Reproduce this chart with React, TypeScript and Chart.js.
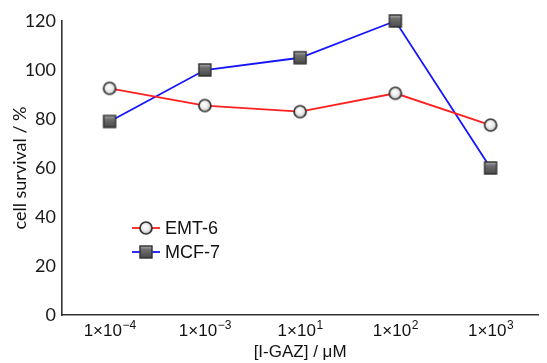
import React, { useEffect, useRef } from "react";
import { Chart, registerables } from "chart.js";

Chart.register(...registerables);

const tickBases = ["1×10", "1×10", "1×10", "1×10", "1×10"];
const tickExponents = ["−4", "−3", "1", "2", "3"];
const categories = tickBases.map((b, i) => b + "^" + tickExponents[i]);
const emt6Values = [92.5, 85.5, 83, 90.5, 77.5];
const mcf7Values = [79, 100, 105, 120, 60];
const seriesNames = ["EMT-6", "MCF-7"];
const seriesColors = ["#ff2020", "#1414ff"];
const yTitle = "cell survival / %";
const xTitle = "[I-GAZ] / μM";

function makeCircle(): HTMLCanvasElement {
  const c = document.createElement("canvas");
  c.width = 16;
  c.height = 16;
  const g = c.getContext("2d")!;
  const grad = g.createRadialGradient(7, 6.5, 0.5, 8, 8, 7);
  grad.addColorStop(0, "#ffffff");
  grad.addColorStop(0.55, "#e6e6e6");
  grad.addColorStop(1, "#8a8a8a");
  g.beginPath();
  g.arc(8, 8, 6, 0, Math.PI * 2);
  g.fillStyle = grad;
  g.fill();
  g.lineWidth = 1.7;
  g.strokeStyle = "#333333";
  g.stroke();
  return c;
}

function makeSquare(): HTMLCanvasElement {
  const c = document.createElement("canvas");
  c.width = 16;
  c.height = 16;
  const g = c.getContext("2d")!;
  const grad = g.createLinearGradient(0, 2, 0, 14);
  grad.addColorStop(0, "#b0b0b0");
  grad.addColorStop(0.3, "#6e6e6e");
  grad.addColorStop(1, "#4a4a4a");
  g.fillStyle = grad;
  g.fillRect(2, 2, 12, 12);
  g.lineWidth = 1.4;
  g.strokeStyle = "#2e2e2e";
  g.strokeRect(2, 2, 12, 12);
  return c;
}

const SANS = "'Liberation Sans', Arial, sans-serif";

export default function App() {
  const ref = useRef<HTMLCanvasElement | null>(null);

  useEffect(() => {
    document.body.style.margin = "0";
    const circle = makeCircle();
    const square = makeSquare();
    const markers = [circle, square];

    const legendPlugin = {
      id: "customLegend",
      afterDraw(chart: any) {
        const ctx = chart.ctx;
        const { left, top } = chart.chartArea;
        seriesNames.forEach((name, i) => {
          const y = top + 207 + i * 24;
          const x0 = left + 70;
          ctx.save();
          ctx.strokeStyle = seriesColors[i];
          ctx.lineWidth = 1.8;
          ctx.beginPath();
          ctx.moveTo(x0, y);
          ctx.lineTo(x0 + 28, y);
          ctx.stroke();
          ctx.drawImage(markers[i], x0 + 14 - 8, y - 8, 16, 16);
          ctx.fillStyle = "#111111";
          ctx.font = "18px " + SANS;
          ctx.textBaseline = "middle";
          ctx.textAlign = "left";
          ctx.fillText(name, x0 + 33, y + 1);
          ctx.restore();
        });
      },
    };

    const xLabelPlugin = {
      id: "xLabels",
      afterDraw(chart: any) {
        const ctx = chart.ctx;
        const xs = chart.scales.x;
        const baseY = xs.top + 21;
        ctx.save();
        ctx.fillStyle = "#111111";
        ctx.textBaseline = "alphabetic";
        ctx.textAlign = "left";
        tickBases.forEach((base, i) => {
          const x = xs.getPixelForValue(i);
          ctx.font = "17px " + SANS;
          const wB = ctx.measureText(base).width;
          ctx.font = "12px " + SANS;
          const wE = ctx.measureText(tickExponents[i]).width;
          const start = x - (wB + wE) / 2;
          ctx.font = "17px " + SANS;
          ctx.fillText(base, start, baseY);
          ctx.font = "12px " + SANS;
          ctx.fillText(tickExponents[i], start + wB + 0.5, baseY - 7);
        });
        ctx.restore();
      },
    };

    const chart = new Chart(ref.current!, {
      type: "line",
      data: {
        labels: categories,
        datasets: [
          {
            label: seriesNames[0],
            data: emt6Values,
            borderColor: seriesColors[0],
            borderWidth: 1.8,
            pointStyle: circle as any,
            pointRadius: 7,
            tension: 0,
            clip: false as any,
          },
          {
            label: seriesNames[1],
            data: mcf7Values,
            borderColor: seriesColors[1],
            borderWidth: 1.8,
            pointStyle: square as any,
            pointRadius: 7,
            tension: 0,
            clip: false as any,
          },
        ],
      },
      options: {
        animation: false,
        responsive: false,
        layout: { padding: { top: 21, right: 0, left: 0, bottom: 0 } },
        plugins: {
          legend: { display: false },
          tooltip: { enabled: false },
        },
        scales: {
          x: {
            type: "category",
            offset: true,
            grid: { display: false, drawTicks: false },
            border: { display: true, color: "#333333", width: 1.6 },
            ticks: { display: false },
            title: {
              display: true,
              text: xTitle,
              color: "#111111",
              padding: { top: 0, bottom: 0 },
              font: { family: SANS, size: 17 },
            },
            afterFit(scale: any) {
              scale.height = 48;
            },
          },
          y: {
            min: 0,
            max: 120,
            grid: { display: false, drawTicks: false },
            border: { display: true, color: "#333333", width: 1.6 },
            ticks: {
              stepSize: 20,
              color: "#1a1a1a",
              padding: 6,
              font: { family: "Lato, 'Liberation Sans', sans-serif", size: 18 },
            },
            title: {
              display: true,
              text: yTitle,
              color: "#111111",
              padding: { top: 9, bottom: 0 },
              font: { family: "Lato, 'Liberation Sans', sans-serif", size: 18 },
            },
            afterFit(scale: any) {
              scale.width = 62;
            },
          },
        },
      },
      plugins: [legendPlugin, xLabelPlugin],
    });
    return () => chart.destroy();
  }, []);

  return (
    <div style={{ width: 547, height: 363 }}>
      <canvas ref={ref} width={547} height={363} />
    </div>
  );
}
